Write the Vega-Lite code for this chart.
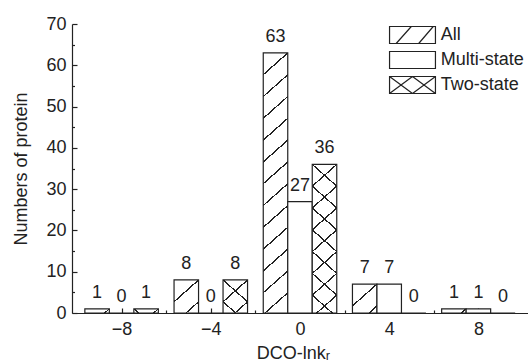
{
  "$schema": "https://vega.github.io/schema/vega-lite/v6.json",
  "width": 456,
  "height": 289,
  "autosize": {"type": "none"},
  "padding": {"left": 72, "top": 24, "right": 0, "bottom": 48},
  "config": {
    "view": {"stroke": null},
    "font": "Liberation Sans",
    "axis": {
      "grid": false,
      "domainColor": "#222222",
      "tickColor": "#222222",
      "domainWidth": 1.2,
      "tickWidth": 1.2,
      "labelColor": "#222222",
      "titleColor": "#222222",
      "labelFontSize": 18,
      "titleFontSize": 18,
      "titleFontWeight": "normal",
      "labelFont": "Liberation Sans",
      "titleFont": "Liberation Sans"
    }
  },
  "data": {
    "values": [
      {"x": -8, "series": "All", "count": 1},
      {"x": -8, "series": "Multi-state", "count": 0},
      {"x": -8, "series": "Two-state", "count": 1},
      {"x": -4, "series": "All", "count": 8},
      {"x": -4, "series": "Multi-state", "count": 0},
      {"x": -4, "series": "Two-state", "count": 8},
      {"x": 0, "series": "All", "count": 63},
      {"x": 0, "series": "Multi-state", "count": 27},
      {"x": 0, "series": "Two-state", "count": 36},
      {"x": 4, "series": "All", "count": 7},
      {"x": 4, "series": "Multi-state", "count": 7},
      {"x": 4, "series": "Two-state", "count": 0},
      {"x": 8, "series": "All", "count": 1},
      {"x": 8, "series": "Multi-state", "count": 1},
      {"x": 8, "series": "Two-state", "count": 0}
    ]
  },
  "encoding": {
    "x": {
      "field": "x",
      "type": "quantitative",
      "scale": {"domain": [-10, 10], "nice": false, "zero": false},
      "axis": {
        "values": [-8, -6, -4, -2, 0, 2, 4, 6, 8],
        "labelExpr": "datum.value % 4 === 0 ? datum.label : ''",
        "tickSize": {"condition": {"test": "datum.value % 4 === 0", "value": -5}, "value": -3},
        "labelPadding": 12,
        "labelFlush": false,
        "labelOverlap": false,
        "title": "DCO-lnkᵣ",
        "titleX": 221,
        "titleY": 45,
        "titleBaseline": "alphabetic",
        "titleAlign": "center"
      }
    },
    "y": {
      "field": "count",
      "type": "quantitative",
      "scale": {"domain": [0, 70], "nice": false},
      "axis": {
        "values": [0, 5, 10, 15, 20, 25, 30, 35, 40, 45, 50, 55, 60, 65, 70],
        "labelExpr": "datum.value % 10 === 0 ? datum.label : ''",
        "tickSize": {"condition": {"test": "datum.value % 10 === 0", "value": -5}, "value": -2.5},
        "labelPadding": 11,
        "labelOverlap": false,
        "title": "Numbers of protein",
        "titleX": -45.5,
        "titleY": 144.5,
        "titleAngle": -90,
        "titleBaseline": "alphabetic",
        "titleAlign": "center"
      }
    }
  },
  "layer": [
    {
      "transform": [{"filter": "datum.series === 'All'"}],
      "mark": {"type": "bar", "width": 24.5, "xOffset": -24.5, "stroke": "#222222", "strokeWidth": 1.2},
      "encoding": {
        "fill": {
          "field": "series",
          "type": "nominal",
          "scale": {"domain": ["All", "Multi-state", "Two-state"], "range": ["white", "white", "white"]},
          "legend": {
            "orient": "none",
            "legendX": 331,
            "legendY": 1.5,
            "title": null,
            "padding": 0,
            "symbolSize": 289,
            "symbolStrokeColor": "#222222",
            "symbolStrokeWidth": 1.2,
            "symbolFillColor": "white",
            "symbolOpacity": 1,
            "labelFontSize": 18,
            "labelFont": "Liberation Sans",
            "labelColor": "#222222",
            "labelOffset": 18.7,
            "labelLimit": 300,
            "rowPadding": 2,
            "encode": {
              "symbols": {
                "update": {
                  "shape": {"signal": "datum.value === 'All' ? 'M-2.7,-1H2.7V1H-2.7ZM-1.92,1L-0.14,-1M0.73,1L2.44,-1' : datum.value === 'Two-state' ? 'M-2.7,-1H2.7V1H-2.7ZM-2.7,-1L0,1M-2.7,1L0,-1M0,-1L2.7,1M0,1L2.7,-1' : 'M-2.7,-1H2.7V1H-2.7Z'"}
                }
              }
            }
          }
        }
      }
    },
    {
      "transform": [{"filter": "datum.series === 'Multi-state'"}],
      "mark": {"type": "bar", "width": 24.5, "xOffset": 0, "fill": "white", "stroke": "#222222", "strokeWidth": 1.2}
    },
    {
      "transform": [{"filter": "datum.series === 'Two-state'"}],
      "mark": {"type": "bar", "width": 24.5, "xOffset": 24.5, "fill": "white", "stroke": "#222222", "strokeWidth": 1.2}
    },
    {
      "transform": [{"filter": "datum.series === 'All'"}],
      "mark": {"type": "bar", "width": 24.5, "xOffset": -24.5, "strokeWidth": 0},
      "encoding": {
        "fill": {
          "condition": [
            {"test": "datum.count === 63", "value": {"gradient": "linear", "x1": 0, "y1": 0, "x2": 0.0902, "y2": 1.0763, "stops": [
              {"offset": 0, "color": "rgba(34,34,34,0)"},
              {"offset": 0.0742, "color": "rgba(34,34,34,0)"}, {"offset": 0.0742, "color": "#222222"}, {"offset": 0.0804, "color": "#222222"}, {"offset": 0.0804, "color": "rgba(34,34,34,0)"},
              {"offset": 0.1516, "color": "rgba(34,34,34,0)"}, {"offset": 0.1516, "color": "#222222"}, {"offset": 0.1578, "color": "#222222"}, {"offset": 0.1578, "color": "rgba(34,34,34,0)"},
              {"offset": 0.2289, "color": "rgba(34,34,34,0)"}, {"offset": 0.2289, "color": "#222222"}, {"offset": 0.2351, "color": "#222222"}, {"offset": 0.2351, "color": "rgba(34,34,34,0)"},
              {"offset": 0.3062, "color": "rgba(34,34,34,0)"}, {"offset": 0.3062, "color": "#222222"}, {"offset": 0.3124, "color": "#222222"}, {"offset": 0.3124, "color": "rgba(34,34,34,0)"},
              {"offset": 0.3836, "color": "rgba(34,34,34,0)"}, {"offset": 0.3836, "color": "#222222"}, {"offset": 0.3898, "color": "#222222"}, {"offset": 0.3898, "color": "rgba(34,34,34,0)"},
              {"offset": 0.4609, "color": "rgba(34,34,34,0)"}, {"offset": 0.4609, "color": "#222222"}, {"offset": 0.4671, "color": "#222222"}, {"offset": 0.4671, "color": "rgba(34,34,34,0)"},
              {"offset": 0.5382, "color": "rgba(34,34,34,0)"}, {"offset": 0.5382, "color": "#222222"}, {"offset": 0.5444, "color": "#222222"}, {"offset": 0.5444, "color": "rgba(34,34,34,0)"},
              {"offset": 0.6156, "color": "rgba(34,34,34,0)"}, {"offset": 0.6156, "color": "#222222"}, {"offset": 0.6218, "color": "#222222"}, {"offset": 0.6218, "color": "rgba(34,34,34,0)"},
              {"offset": 0.6929, "color": "rgba(34,34,34,0)"}, {"offset": 0.6929, "color": "#222222"}, {"offset": 0.6991, "color": "#222222"}, {"offset": 0.6991, "color": "rgba(34,34,34,0)"},
              {"offset": 0.7702, "color": "rgba(34,34,34,0)"}, {"offset": 0.7702, "color": "#222222"}, {"offset": 0.7764, "color": "#222222"}, {"offset": 0.7764, "color": "rgba(34,34,34,0)"},
              {"offset": 0.8476, "color": "rgba(34,34,34,0)"}, {"offset": 0.8476, "color": "#222222"}, {"offset": 0.8538, "color": "#222222"}, {"offset": 0.8538, "color": "rgba(34,34,34,0)"},
              {"offset": 0.9249, "color": "rgba(34,34,34,0)"}, {"offset": 0.9249, "color": "#222222"}, {"offset": 0.9311, "color": "#222222"}, {"offset": 0.9311, "color": "rgba(34,34,34,0)"}
            ]}},
            {"test": "datum.count === 8", "value": {"gradient": "linear", "x1": 0, "y1": 0, "x2": 0.7632, "y2": 1.1563, "stops": [
              {"offset": 0, "color": "rgba(34,34,34,0)"},
              {"offset": 0.3817, "color": "rgba(34,34,34,0)"}, {"offset": 0.3817, "color": "#222222"}, {"offset": 0.4135, "color": "#222222"}, {"offset": 0.4135, "color": "rgba(34,34,34,0)"},
              {"offset": 0.7793, "color": "rgba(34,34,34,0)"}, {"offset": 0.7793, "color": "#222222"}, {"offset": 0.8111, "color": "#222222"}, {"offset": 0.8111, "color": "rgba(34,34,34,0)"}
            ]}},
            {"test": "datum.count === 7", "value": {"gradient": "linear", "x1": 0, "y1": 0, "x2": 0.8434, "y2": 1.1181, "stops": [
              {"offset": 0, "color": "rgba(34,34,34,0)"},
              {"offset": 0.4128, "color": "rgba(34,34,34,0)"}, {"offset": 0.4128, "color": "#222222"}, {"offset": 0.4472, "color": "#222222"}, {"offset": 0.4472, "color": "rgba(34,34,34,0)"},
              {"offset": 0.8428, "color": "rgba(34,34,34,0)"}, {"offset": 0.8428, "color": "#222222"}, {"offset": 0.8772, "color": "#222222"}, {"offset": 0.8772, "color": "rgba(34,34,34,0)"}
            ]}},
            {"test": "datum.count === 1", "value": {"gradient": "linear", "x1": 0, "y1": 0, "x2": 1.1483, "y2": 0.2176, "stops": [
              {"offset": 0, "color": "rgba(34,34,34,0)"},
              {"offset": 0.8071, "color": "rgba(34,34,34,0)"}, {"offset": 0.8071, "color": "#222222"}, {"offset": 0.8743, "color": "#222222"}, {"offset": 0.8743, "color": "rgba(34,34,34,0)"}
            ]}}
          ],
          "value": "transparent"
        }
      }
    },
    {
      "transform": [{"filter": "datum.series === 'Two-state'"}],
      "mark": {"type": "bar", "width": 24.5, "xOffset": 24.5, "strokeWidth": 0},
      "encoding": {
        "fill": {
          "condition": [
            {"test": "datum.count === 36", "value": {"gradient": "linear", "x1": 0, "y1": 0, "x2": 0.1646, "y2": 1.1225, "stops": [
              {"offset": 0, "color": "rgba(34,34,34,0)"},
              {"offset": 0.1228, "color": "rgba(34,34,34,0)"}, {"offset": 0.1228, "color": "#222222"}, {"offset": 0.1330, "color": "#222222"}, {"offset": 0.1330, "color": "rgba(34,34,34,0)"},
              {"offset": 0.2507, "color": "rgba(34,34,34,0)"}, {"offset": 0.2507, "color": "#222222"}, {"offset": 0.2609, "color": "#222222"}, {"offset": 0.2609, "color": "rgba(34,34,34,0)"},
              {"offset": 0.3786, "color": "rgba(34,34,34,0)"}, {"offset": 0.3786, "color": "#222222"}, {"offset": 0.3888, "color": "#222222"}, {"offset": 0.3888, "color": "rgba(34,34,34,0)"},
              {"offset": 0.5065, "color": "rgba(34,34,34,0)"}, {"offset": 0.5065, "color": "#222222"}, {"offset": 0.5167, "color": "#222222"}, {"offset": 0.5167, "color": "rgba(34,34,34,0)"},
              {"offset": 0.6345, "color": "rgba(34,34,34,0)"}, {"offset": 0.6345, "color": "#222222"}, {"offset": 0.6447, "color": "#222222"}, {"offset": 0.6447, "color": "rgba(34,34,34,0)"},
              {"offset": 0.7624, "color": "rgba(34,34,34,0)"}, {"offset": 0.7624, "color": "#222222"}, {"offset": 0.7726, "color": "#222222"}, {"offset": 0.7726, "color": "rgba(34,34,34,0)"},
              {"offset": 0.8903, "color": "rgba(34,34,34,0)"}, {"offset": 0.8903, "color": "#222222"}, {"offset": 0.9005, "color": "#222222"}, {"offset": 0.9005, "color": "rgba(34,34,34,0)"}
            ]}},
            {"test": "datum.count === 8", "value": {"gradient": "linear", "x1": 0, "y1": 0, "x2": 0.7632, "y2": 1.1563, "stops": [
              {"offset": 0, "color": "rgba(34,34,34,0)"},
              {"offset": 0.3817, "color": "rgba(34,34,34,0)"}, {"offset": 0.3817, "color": "#222222"}, {"offset": 0.4135, "color": "#222222"}, {"offset": 0.4135, "color": "rgba(34,34,34,0)"},
              {"offset": 0.7793, "color": "rgba(34,34,34,0)"}, {"offset": 0.7793, "color": "#222222"}, {"offset": 0.8111, "color": "#222222"}, {"offset": 0.8111, "color": "rgba(34,34,34,0)"}
            ]}},
            {"test": "datum.count === 1", "value": {"gradient": "linear", "x1": 0, "y1": 0, "x2": 1.1483, "y2": 0.2176, "stops": [
              {"offset": 0, "color": "rgba(34,34,34,0)"},
              {"offset": 0.8071, "color": "rgba(34,34,34,0)"}, {"offset": 0.8071, "color": "#222222"}, {"offset": 0.8743, "color": "#222222"}, {"offset": 0.8743, "color": "rgba(34,34,34,0)"}
            ]}}
          ],
          "value": "transparent"
        }
      }
    },
    {
      "transform": [{"filter": "datum.series === 'Two-state'"}],
      "mark": {"type": "bar", "width": 24.5, "xOffset": 24.5, "strokeWidth": 0},
      "encoding": {
        "fill": {
          "condition": [
            {"test": "datum.count === 36", "value": {"gradient": "linear", "x1": 1, "y1": 0, "x2": 0.8354, "y2": 1.1225, "stops": [
              {"offset": 0, "color": "rgba(34,34,34,0)"},
              {"offset": 0.1228, "color": "rgba(34,34,34,0)"}, {"offset": 0.1228, "color": "#222222"}, {"offset": 0.1330, "color": "#222222"}, {"offset": 0.1330, "color": "rgba(34,34,34,0)"},
              {"offset": 0.2507, "color": "rgba(34,34,34,0)"}, {"offset": 0.2507, "color": "#222222"}, {"offset": 0.2609, "color": "#222222"}, {"offset": 0.2609, "color": "rgba(34,34,34,0)"},
              {"offset": 0.3786, "color": "rgba(34,34,34,0)"}, {"offset": 0.3786, "color": "#222222"}, {"offset": 0.3888, "color": "#222222"}, {"offset": 0.3888, "color": "rgba(34,34,34,0)"},
              {"offset": 0.5065, "color": "rgba(34,34,34,0)"}, {"offset": 0.5065, "color": "#222222"}, {"offset": 0.5167, "color": "#222222"}, {"offset": 0.5167, "color": "rgba(34,34,34,0)"},
              {"offset": 0.6345, "color": "rgba(34,34,34,0)"}, {"offset": 0.6345, "color": "#222222"}, {"offset": 0.6447, "color": "#222222"}, {"offset": 0.6447, "color": "rgba(34,34,34,0)"},
              {"offset": 0.7624, "color": "rgba(34,34,34,0)"}, {"offset": 0.7624, "color": "#222222"}, {"offset": 0.7726, "color": "#222222"}, {"offset": 0.7726, "color": "rgba(34,34,34,0)"},
              {"offset": 0.8903, "color": "rgba(34,34,34,0)"}, {"offset": 0.8903, "color": "#222222"}, {"offset": 0.9005, "color": "#222222"}, {"offset": 0.9005, "color": "rgba(34,34,34,0)"}
            ]}},
            {"test": "datum.count === 8", "value": {"gradient": "linear", "x1": 1, "y1": 0, "x2": 0.2368, "y2": 1.1563, "stops": [
              {"offset": 0, "color": "rgba(34,34,34,0)"},
              {"offset": 0.3817, "color": "rgba(34,34,34,0)"}, {"offset": 0.3817, "color": "#222222"}, {"offset": 0.4135, "color": "#222222"}, {"offset": 0.4135, "color": "rgba(34,34,34,0)"},
              {"offset": 0.7793, "color": "rgba(34,34,34,0)"}, {"offset": 0.7793, "color": "#222222"}, {"offset": 0.8111, "color": "#222222"}, {"offset": 0.8111, "color": "rgba(34,34,34,0)"}
            ]}},
            {"test": "datum.count === 1", "value": {"gradient": "linear", "x1": 1, "y1": 0, "x2": -0.1483, "y2": 0.2176, "stops": [
              {"offset": 0, "color": "rgba(34,34,34,0)"},
              {"offset": 0.8071, "color": "rgba(34,34,34,0)"}, {"offset": 0.8071, "color": "#222222"}, {"offset": 0.8743, "color": "#222222"}, {"offset": 0.8743, "color": "rgba(34,34,34,0)"}
            ]}}
          ],
          "value": "transparent"
        }
      }
    },
    {
      "transform": [{"filter": "datum.series === 'All'"}],
      "mark": {"type": "text", "xOffset": -24.5, "dy": -11, "fontSize": 18, "font": "Liberation Sans", "fill": "#222222", "baseline": "alphabetic"},
      "encoding": {"text": {"field": "count", "type": "quantitative"}}
    },
    {
      "transform": [{"filter": "datum.series === 'Multi-state'"}],
      "mark": {"type": "text", "xOffset": 0, "dy": -11, "fontSize": 18, "font": "Liberation Sans", "fill": "#222222", "baseline": "alphabetic"},
      "encoding": {"text": {"field": "count", "type": "quantitative"}}
    },
    {
      "transform": [{"filter": "datum.series === 'Two-state'"}],
      "mark": {"type": "text", "xOffset": 24.5, "dy": -11, "fontSize": 18, "font": "Liberation Sans", "fill": "#222222", "baseline": "alphabetic"},
      "encoding": {"text": {"field": "count", "type": "quantitative"}}
    }
  ]
}
